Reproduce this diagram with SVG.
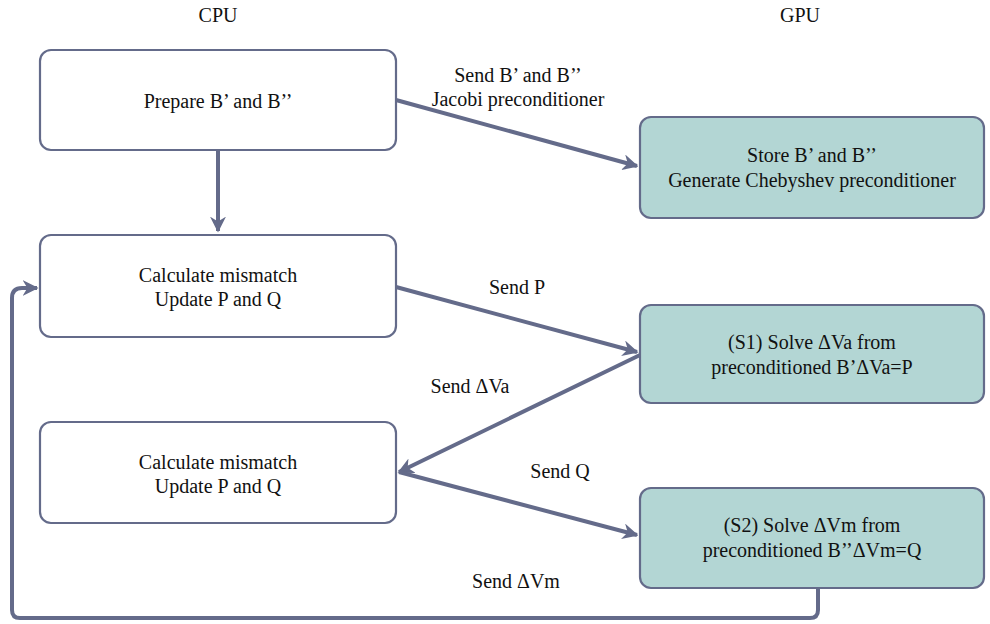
<svg xmlns="http://www.w3.org/2000/svg" width="990" height="624" viewBox="0 0 990 624">
<style>
.t{font-size:20px;fill:#111;text-anchor:middle}
.cpu{fill:#fff;stroke:#646b8a;stroke-width:2.2}
.gpu{fill:#b3d6d4;stroke:#646b8a;stroke-width:2.2}
.c{fill:none;stroke:#646b8a;stroke-width:4;marker-end:url(#ah)}
</style>
<defs>
<marker id="ah" viewBox="0 0 10 10" refX="9" refY="5" markerWidth="4" markerHeight="4" orient="auto" markerUnits="strokeWidth">
<path d="M0,0 L10,5 L0,10 L3,5 z" fill="#646b8a"/>
</marker>
</defs>
<g font-family="'Liberation Serif', 'Times New Roman', serif">
<text class="t" x="218" y="22">CPU</text>
<text class="t" x="800" y="22">GPU</text>
<g id="prepare"><rect class="cpu" x="40" y="50" width="356" height="100" rx="11"/><text class="t" x="218" y="108">Prepare B’ and B’’</text></g>
<g id="calc1"><rect class="cpu" x="40" y="235" width="356" height="102" rx="11"/><text class="t" x="218" y="282">Calculate mismatch</text><text class="t" x="218" y="306">Update P and Q</text></g>
<g id="calc2"><rect class="cpu" x="40" y="422" width="356" height="101" rx="11"/><text class="t" x="218" y="469">Calculate mismatch</text><text class="t" x="218" y="493">Update P and Q</text></g>
<g id="store"><rect class="gpu" x="640" y="117" width="344" height="101" rx="11"/><text class="t" x="812" y="162">Store B’ and B’’</text><text class="t" x="812" y="187">Generate Chebyshev preconditioner</text></g>
<g id="s1"><rect class="gpu" x="640" y="305" width="344" height="98" rx="11"/><text class="t" x="812" y="349">(S1) Solve ΔVa from</text><text class="t" x="812" y="374">preconditioned B’ΔVa=P</text></g>
<g id="s2"><rect class="gpu" x="640" y="488" width="344" height="100" rx="11"/><text class="t" x="812" y="532">(S2) Solve ΔVm from</text><text class="t" x="812" y="557">preconditioned B’’ΔVm=Q</text></g>
<g id="connectors">
<path class="c" d="M218,150 L218,231"/>
<path class="c" d="M396,100 L637,166"/>
<path class="c" d="M396,287 L637,352"/>
<path class="c" d="M640,355 L399,472"/>
<path class="c" d="M399,472 L637,535"/>
<path class="c" d="M818,588 L818,610 Q818,618 810,618 L20,618 Q12,618 12,610 L12,298 Q12,288 22,288 L37,288"/>
</g>
<text class="t" x="518" y="82">Send B’ and B’’</text>
<text class="t" x="518" y="106">Jacobi preconditioner</text>
<text class="t" x="517" y="294">Send P</text>
<text class="t" x="470" y="393">Send ΔVa</text>
<text class="t" x="560" y="478">Send Q</text>
<text class="t" x="516" y="588">Send ΔVm</text>
</g>
</svg>
